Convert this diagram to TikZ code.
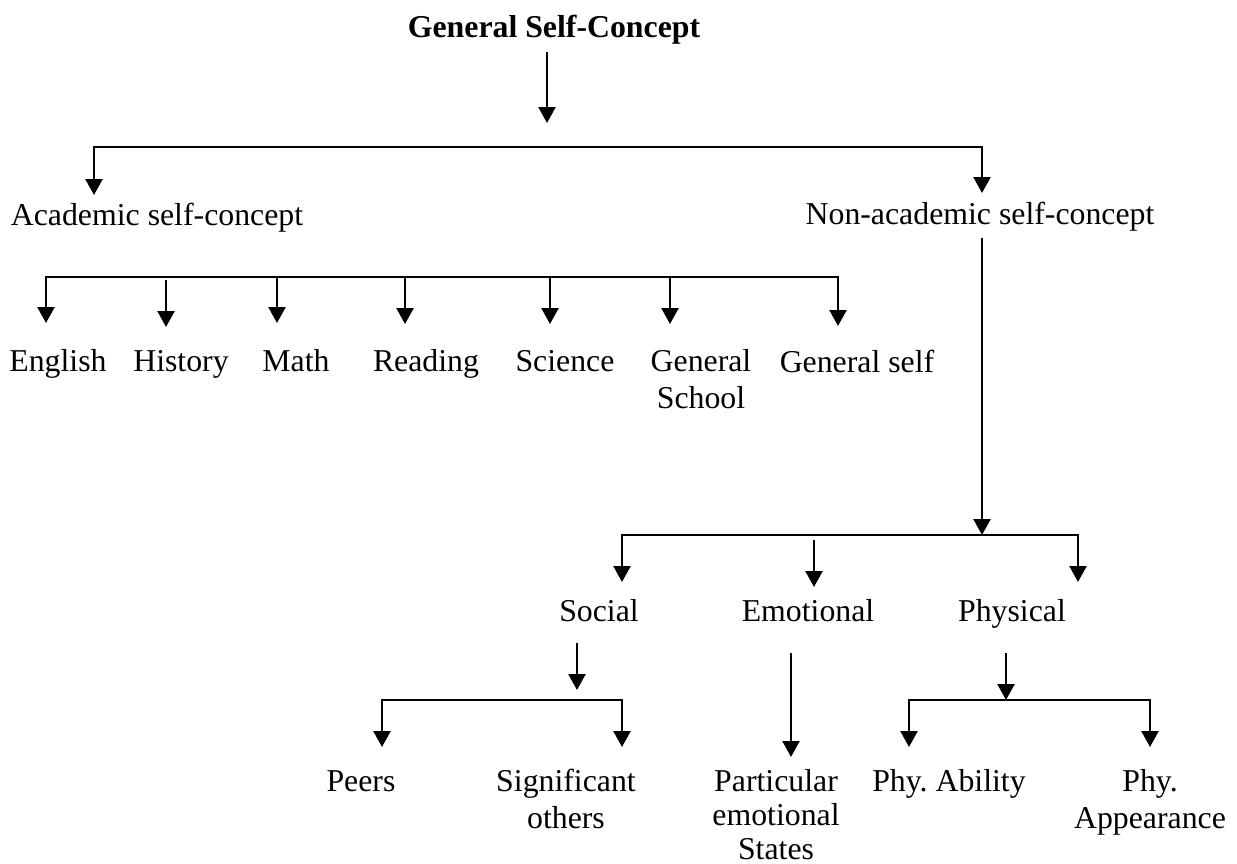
\documentclass[tikz,border=0pt]{standalone}
\usepackage{fontspec}
\setmainfont{Liberation Serif}
\usetikzlibrary{arrows.meta}
\begin{document}
\frenchspacing
\begin{tikzpicture}[x=0.5pt,y=-0.5pt,
  lbl/.style={anchor=base,inner sep=0pt,align=center,font=\fontsize{15.9}{18.5}\selectfont},
  lbltight/.style={lbl,font=\fontsize{15.9}{17}\selectfont},
  ttl/.style={lbl,font=\fontsize{15.9}{18.5}\selectfont\bfseries},
  arr/.style={-{Triangle[length=8pt,width=8.5pt]},line width=1.2pt},
  darr/.style={{Triangle[length=8pt,width=8.5pt]}-{Triangle[length=8pt,width=8.5pt]},line width=1.2pt}]
\useasboundingbox (0,0) rectangle (1237,863);
% texts (multi-line nodes are placed by the baseline of their last line)
\node[ttl] (gsc) at (554,37) {General Self-Concept};
\node[lbl] (acad) at (157,225) {Academic self-concept};
\node[lbl] (nonacad) at (980,224) {Non-academic self-concept};
\node[lbl] (eng) at (58,371) {English};
\node[lbl] (hist) at (181,371) {History};
\node[lbl] (math) at (296,371) {Math};
\node[lbl] (read) at (426,371) {Reading};
\node[lbl] (sci) at (565,371) {Science};
\node[lbl] (gensch) at (701,408) {General\\School};
\node[lbl] (genself) at (857,372) {General self};
\node[lbl] (social) at (599,621) {Social};
\node[lbl] (emot) at (808,621) {Emotional};
\node[lbl] (phys) at (1012,621) {Physical};
\node[lbl] (peers) at (361,791) {Peers};
\node[lbl] (sigoth) at (566,828) {Significant\\others};
\node[lbltight] (partemo) at (776,859) {Particular\\emotional\\States};
\node[lbl] (phyab) at (949,791) {Phy. Ability};
\node[lbl] (phyap) at (1150,828) {Phy.\\Appearance};
% coordinates
\coordinate (gscS) at (547,52);
\coordinate (gscE) at (547,123);
\coordinate (acadT) at (94,195);
\coordinate (j1a) at (94,147);
\coordinate (j1b) at (982,147);
\coordinate (nonT) at (982,193);
\coordinate (j2a) at (46,277);
\coordinate (j2b) at (838,277);
\coordinate (engT) at (46,323);
\coordinate (selfT) at (838,326);
\coordinate (histB) at (166,280);
\coordinate (histT) at (166,327);
\coordinate (mathB) at (277,277);
\coordinate (mathT) at (277,323);
\coordinate (readB) at (405,277);
\coordinate (readT) at (405,324);
\coordinate (sciB) at (550,277);
\coordinate (sciT) at (550,324);
\coordinate (schB) at (670,277);
\coordinate (schT) at (670,324);
\coordinate (nonB) at (982,238);
\coordinate (j3) at (982,535);
\coordinate (j3a) at (622,535);
\coordinate (j3b) at (1078,535);
\coordinate (socT) at (622,582);
\coordinate (physT) at (1078,582);
\coordinate (emB) at (814,540);
\coordinate (emT) at (814,587);
\coordinate (socB) at (577,643);
\coordinate (socJ) at (577,690);
\coordinate (j4a) at (382,700);
\coordinate (j4b) at (622,700);
\coordinate (peersT) at (382,747);
\coordinate (sigT) at (622,747);
\coordinate (emoB) at (791,653);
\coordinate (emoT) at (791,757);
\coordinate (physB) at (1006,653);
\coordinate (physJ) at (1006,700);
\coordinate (j5a) at (909,700);
\coordinate (j5b) at (1150,700);
\coordinate (abT) at (909,747);
\coordinate (apT) at (1150,747);
% connectors
\draw[arr] (gscS) -- (gscE);
\draw[darr] (acadT) -- (j1a) -- (j1b) -- (nonT);
\draw[darr] (engT) -- (j2a) -- (j2b) -- (selfT);
\draw[arr] (histB) -- (histT);
\draw[arr] (mathB) -- (mathT);
\draw[arr] (readB) -- (readT);
\draw[arr] (sciB) -- (sciT);
\draw[arr] (schB) -- (schT);
\draw[arr] (nonB) -- (j3);
\draw[darr] (socT) -- (j3a) -- (j3b) -- (physT);
\draw[arr] (emB) -- (emT);
\draw[arr] (socB) -- (socJ);
\draw[darr] (peersT) -- (j4a) -- (j4b) -- (sigT);
\draw[arr] (emoB) -- (emoT);
\draw[arr] (physB) -- (physJ);
\draw[darr] (abT) -- (j5a) -- (j5b) -- (apT);
\end{tikzpicture}
\end{document}
